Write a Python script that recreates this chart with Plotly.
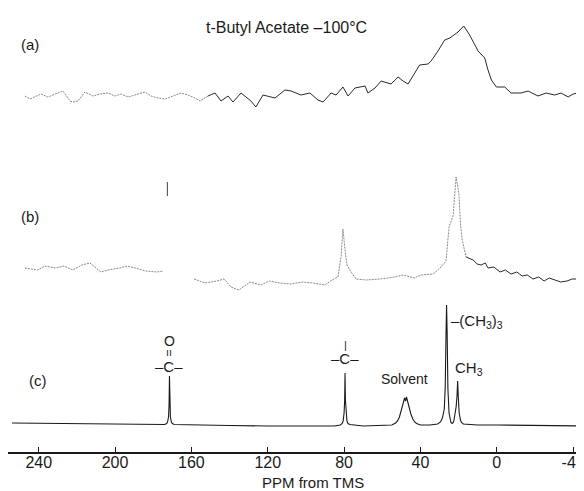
import plotly.graph_objects as go

# ---------------- data ----------------
tick_ppm = [240, 200, 160, 120, 80, 40, 0, -40]
tick_text = ["240", "200", "160", "120", "80", "40", "0", "-40"]

# (a) spectrum, faint left part then solid part (ppm, intensity a.u.)
a_faint_ppm = [247.2, 244.6, 238.8, 235.2, 227.3, 223.6, 222.1, 219.4, 215.8, 211.6,
               207.9, 203.7, 200.1, 196.9, 193.2, 189.0, 184.3, 181.2, 177.5, 173.8,
               169.7, 165.5, 161.8, 158.1, 155.5, 152.4, 151.3]
a_faint_int = [2, -1, 4, 1, 7, -3, -4, -3, 6, 2,
               4, 5, 2, 4, 1, 3, 6, 2, 0, -1,
               2, 5, 3, 0, -3, 1, 2]
a_ppm = [151.3, 147.6, 144.5, 140.8, 138.2, 134.0, 128.8, 126.2, 122.5, 116.2,
         111.0, 107.8, 102.6, 97.9, 93.7, 91.0, 86.8, 84.2, 80.6, 77.9,
         74.3, 69.0, 67.5, 63.8, 60.6, 55.4, 51.7, 49.1, 46.5, 43.0,
         40.4, 36.0, 34.4, 30.8, 27.3, 24.6, 20.3, 17.3, 14.2, 9.8,
         6.3, 4.6, 2.8, 0.2, -4.2, -7.5, -12.7, -16.4, -21.6, -25.8,
         -30.4, -33.7, -37.4, -40.0, -42.6, -46.1, -49.9]
a_int = [2, 5, -3, 2, -4, 5, -3, -9, 3, 0,
         8, 7, 3, 5, -2, -4, 5, 3, 11, 2,
         10, 12, 5, 10, 17, 14, 21, 17, 14, 25,
         33, 34, 37, 47, 58, 60, 66, 72, 63, 47,
         40, 28, 18, 11, 11, 5, 5, 7, 2, 5,
         3, 5, 1, 4, 5, 10, 8]

# (b) spectrum
b_left_ppm = [247.2, 240.5, 236.8, 231.1, 226.8, 222.1, 217.4, 213.2, 207.4, 203.7,
              197.4, 193.8, 189.6, 183.9, 178.0, 174.8]
b_left_int = [10, 8, 12, 10, 12, 8, 13, 15, 6, 8,
              10, 12, 10, 7, 6, 7]
b_mark_ppm = [172.6, 172.6]
b_mark_int = [82, 96]
b_mid_ppm = [158.6, 152.9, 146.6, 142.9, 139.3, 135.1, 129.3, 123.5, 119.3, 113.6,
             107.8, 102.0, 96.3, 90.0, 86.3, 83.2, 81.6, 80.6, 79.5, 78.5,
             76.4, 73.7, 68.5, 61.2, 53.3, 49.1, 43.3, 39.7, 33.4, 29.7,
             26.6, 25.0, 22.9, 21.3, 19.8, 19.0, 18.2, 17.1, 16.1]
b_mid_int = [-1, -5, -3, -1, -9, -12, -4, -7, -3, -5,
             -6, -4, -5, -7, -2, 1, 21, 49, 28, 13,
             6, -1, -2, -1, 1, 3, 0, 3, 4, 10,
             17, 51, 62, 101, 84, 54, 39, 28, 21]
b_right_ppm = [16.1, 12.4, 10.3, 8.2, 6.0, 4.6, 1.5, -1.7, -4.5, -7.5, -10.5, -13.3,
               -16.0, -19.0, -22.0, -24.8, -27.5, -30.6, -33.5, -36.8, -39.5, -42.6,
               -45.5, -48.4]
b_right_int = [21, 18, 14, 13, 15, 10, 11, 6, 8, 4, 6, 2,
               3, -1, 1, -3, 0, -2, -4, -3, -1, -1,
               -3, 2]

# (c) spectrum
c_ppm = [254, 230, 200, 180, 175, 174, 173, 172.5, 172, 171.7, 171.5, 171.3, 171, 170.5,
         170, 169, 160, 140, 120, 100, 85, 82, 81, 80.5, 80, 79.7, 79.5, 79.3,
         79, 78.5, 78, 77, 70, 60, 55, 53, 52, 51, 50, 49, 48.3, 47.8,
         47.3, 46.6, 46, 45, 44, 43, 42, 40, 35, 31, 29.5, 28.5, 27.5, 27,
         26.6, 26.3, 26.0, 25.6, 25, 24.5, 24, 23.4, 23, 22.5, 22, 21.3, 20.8, 20.5,
         20.2, 19.7, 19, 18.5, 17.5, 15, 10, 0, -20, -50]
c_int = [2, 1.5, 1.5, 1, 0.5, 0.5, 1.5, 3, 8, 20, 49, 20, 8, 3,
         1.5, 0.5, 0, -0.5, -1, -1, -1, 0, 1.5, 4, 12, 25, 52, 25,
         12, 4, 1.5, 0.5, -1, -0.5, 0, 2, 4, 8, 14, 22, 27, 24,
         28, 22, 18, 11, 6, 3, 1.5, 0, 0, 1, 3, 7, 16, 38,
         90, 120, 92, 36, 12, 5, 2.5, 1.5, 2, 4, 9, 18, 30, 44,
         30, 12, 5, 2.5, 1, 0.5, 0, 0, -0.5, -1]

# ---------------- figure ----------------
faint = dict(color="#8a8a8a", width=1, dash="2px,1px")
solid = dict(color="#2a2a2a", width=1)

fig = go.Figure()
fig.add_trace(go.Scatter(x=a_faint_ppm, y=a_faint_int, mode="lines", line=faint,
                         xaxis="x", yaxis="y"))
fig.add_trace(go.Scatter(x=a_ppm, y=a_int, mode="lines", line=solid,
                         xaxis="x", yaxis="y"))
fig.add_trace(go.Scatter(x=b_left_ppm, y=b_left_int, mode="lines", line=faint,
                         xaxis="x", yaxis="y2"))
fig.add_trace(go.Scatter(x=b_mark_ppm, y=b_mark_int, mode="lines",
                         line=dict(color="#444", width=1), xaxis="x", yaxis="y2"))
fig.add_trace(go.Scatter(x=b_mid_ppm, y=b_mid_int, mode="lines", line=faint,
                         xaxis="x", yaxis="y2"))
fig.add_trace(go.Scatter(x=b_right_ppm, y=b_right_int, mode="lines", line=solid,
                         xaxis="x", yaxis="y2"))
fig.add_trace(go.Scatter(x=c_ppm, y=c_int, mode="lines",
                         line=dict(color="#1a1a1a", width=1.1), xaxis="x", yaxis="y3"))

H = 491.0
def pdom(top_px, bot_px):
    return [1 - bot_px / H, 1 - top_px / H]

hidden_y = dict(visible=False, fixedrange=True)
fig.update_layout(
    width=584, height=491,
    margin=dict(l=0, r=0, t=0, b=0),
    paper_bgcolor="white", plot_bgcolor="rgba(0,0,0,0)",
    showlegend=False,
    font=dict(family="Liberation Sans, Arial, sans-serif", color="#1a1a1a", size=15),
    xaxis=dict(range=[256.1, -49.9], domain=[0, 1], anchor="free",
               position=1 - 445 / H, side="bottom",
               showline=True, linecolor="#1a1a1a", linewidth=1.5,
               ticks="inside", ticklen=5, tickwidth=1, tickcolor="#1a1a1a",
               tickvals=tick_ppm, ticktext=tick_text, tickfont=dict(size=16),
               ticklabelstandoff=-5,
               showgrid=False, zeroline=False),
    yaxis=dict(domain=pdom(0, 120), range=[-30, 90], anchor="x", **hidden_y),
    yaxis2=dict(domain=pdom(140, 290), range=[-20, 130], anchor="x", **hidden_y),
    yaxis3=dict(domain=pdom(285, 440), range=[-23, 132], anchor="x", **hidden_y),
)

def pann(text, xpx, ypx, size=15, xanchor="center"):
    fig.add_annotation(text=text, x=xpx / 584, y=1 - ypx / H, xref="paper", yref="paper",
                       showarrow=False, font=dict(size=size), xanchor=xanchor,
                       yanchor="middle")

def cann(text, ppm, inten, size=15, xanchor="center", angle=0):
    fig.add_annotation(text=text, x=ppm, y=inten, xref="x", yref="y3",
                       showarrow=False, font=dict(size=size), xanchor=xanchor,
                       yanchor="middle", textangle=angle)

pann("t-Butyl Acetate \u2013100\u00b0C", 278, 20, size=16)
pann("(a)", 22, 37)
pann("(b)", 22, 208)
pann("(c)", 30, 372)
pann("PPM from TMS", 305, 474)

# structural labels on spectrum (c)
cann("O", 171.5, 84, size=14)
cann("=", 171.5, 72, size=12, angle=90)
cann("\u2013C\u2013", 171.5, 59, size=15)
cann("|", 79.5, 80, size=11)
cann("\u2013C\u2013", 79.5, 67, size=15)
cann("Solvent", 48.1, 46, size=14)
cann("\u2013(CH<sub>3</sub>)<sub>3</sub>", 24.8, 104, size=15, xanchor="left")
cann("CH<sub>3</sub>", 23.0, 57, size=15, xanchor="left")

fig.write_html("out.html")
